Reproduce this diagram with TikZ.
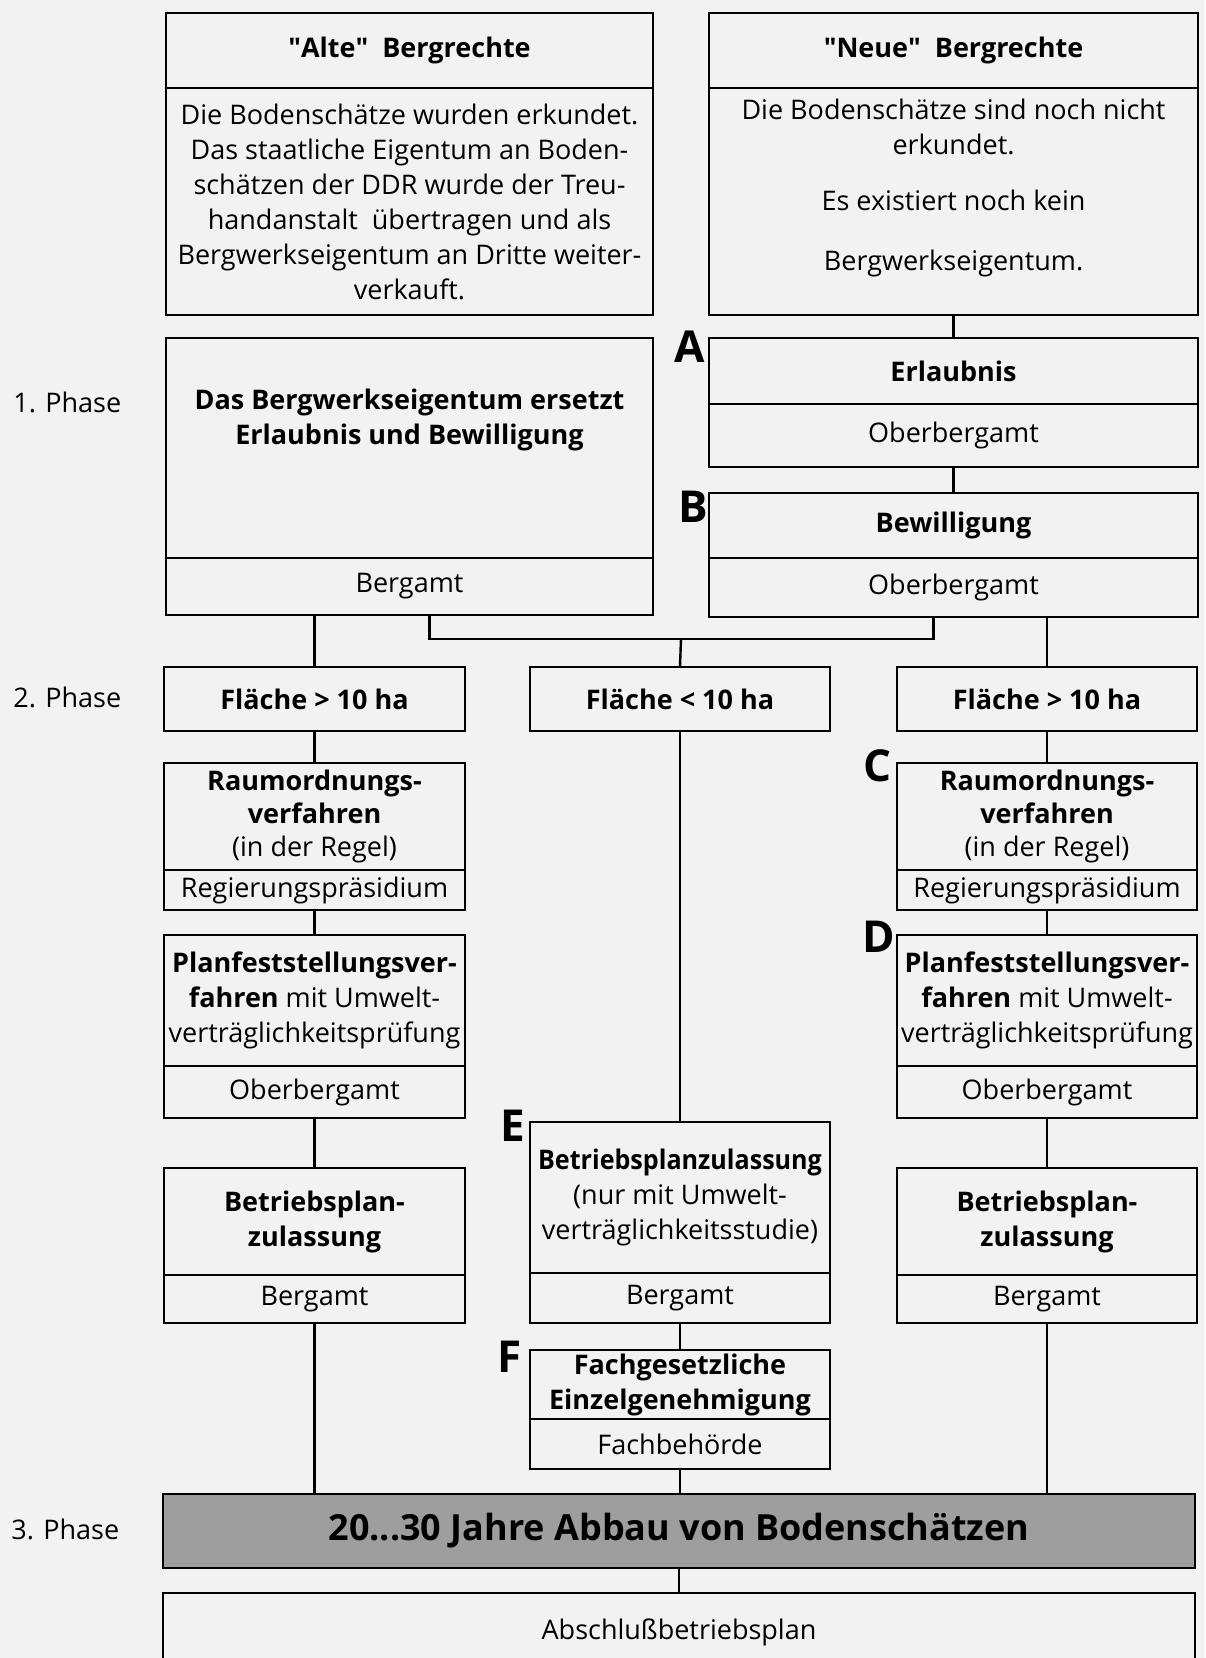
\documentclass[tikz,border=0pt]{standalone}
\usepackage{fontspec}
\setmainfont{Open Sans}
\definecolor{paper}{gray}{0.95}
\definecolor{abbaugray}{gray}{0.62}

\begin{document}
\begin{tikzpicture}[
    x=0.5pt, y=-0.5pt,
    font=\fontsize{13.5}{17.5}\selectfont,
    headbox/.style={rectangle, draw=black, line width=1.2pt, inner sep=0pt, align=center, font=\fontsize{13.5}{17.5}\selectfont\bfseries},
    bodybox/.style={rectangle, draw=black, line width=1.2pt, inner sep=0pt, align=center},
    phaselabel/.style={anchor=west, inner sep=0pt},
    letterlabel/.style={font=\fontsize{22}{22}\selectfont\bfseries},
    link/.style={line width=1.2pt}
]
\useasboundingbox (0,0) rectangle (1205,1658);
\clip (0,0) rectangle (1205,1658);
\fill [paper] (0,0) rectangle (1205,1658);

% --- Nodes ---
% Top row: old and new mining rights
\node (altehead) at (409.5, 50.5) [headbox, minimum width=243.5pt, minimum height=37.5pt] {\textquotedbl Alte\textquotedbl~ Bergrechte};
\node (altebody) at (409.5, 201.5) [bodybox, minimum width=243.5pt, minimum height=113.5pt] {Die Bodenschätze wurden erkundet.\\ Das staatliche Eigentum an Boden-\\ schätzen der DDR wurde der Treu-\\ handanstalt~ übertragen und als\\ Bergwerkseigentum an Dritte weiter-\\ verkauft.};
\node (neuehead) at (953.5, 50.5) [headbox, minimum width=244.5pt, minimum height=37.5pt] {\textquotedbl Neue\textquotedbl~ Bergrechte};
\node (neuebody) at (953.5, 201.5) [bodybox, minimum width=244.5pt, minimum height=113.5pt] {};
\node (neuetext) at (953.5, 188) [align=center] {Die Bodenschätze sind noch nicht\\ erkundet.\\[10.5pt] Es existiert noch kein\\[12.5pt] Bergwerkseigentum.};

% 1. Phase
\node (phase1) at (13, 402) [phaselabel] {1. Phase};
\node (bwehead) at (409.5, 448) [headbox, minimum width=243.5pt, minimum height=110pt] {};
\node (bwetext) at (409.5, 420) [align=center, font=\fontsize{13.5}{17.5}\selectfont\bfseries] {Das Bergwerkseigentum ersetzt\\ Erlaubnis und Bewilligung};
\node (bwebody) at (409.5, 586.5) [bodybox, minimum width=243.5pt, minimum height=28.5pt] {Bergamt};

\node (erlhead) at (953.5, 371) [headbox, minimum width=244.5pt, minimum height=33pt] {Erlaubnis};
\node (erlbody) at (953.5, 435.5) [bodybox, minimum width=244.5pt, minimum height=31.5pt] {Oberbergamt};
\node (bewhead) at (953.5, 525.5) [headbox, minimum width=244.5pt, minimum height=32.5pt] {Bewilligung};
\node (bewbody) at (953.5, 587.5) [bodybox, minimum width=244.5pt, minimum height=29.5pt] {Oberbergamt};
\node (letA) at (690, 347) [letterlabel] {A};
\node (letB) at (693, 507) [letterlabel] {B};

% 2. Phase
\node (phase2) at (13, 697) [phaselabel] {2. Phase};
\node (flaecheL) at (314.5, 699) [headbox, minimum width=150.5pt, minimum height=32pt] {Fläche > 10 ha};
\node (flaecheM) at (680, 699) [headbox, minimum width=150pt, minimum height=32pt] {Fläche < 10 ha};
\node (flaecheR) at (1047, 699) [headbox, minimum width=150pt, minimum height=32pt] {Fläche > 10 ha};

% Left column
\node (raumLhead) at (314.5, 816.5) [headbox, minimum width=150.5pt, minimum height=53.5pt, font=\fontsize{13.5}{16.5}\selectfont\bfseries] {Raumordnungs-\\ verfahren\\ \mdseries (in der Regel)};
\node (raumLbody) at (314.5, 890) [bodybox, minimum width=150.5pt, minimum height=20pt] {Regierungspräsidium};
\node (planLhead) at (314.5, 1000.5) [headbox, minimum width=150.5pt, minimum height=65.5pt] {Planfeststellungsver-\\ fahren \mdseries mit Umwelt-\\ \mdseries verträglichkeitsprüfung};
\node (planLbody) at (314.5, 1092) [bodybox, minimum width=150.5pt, minimum height=26pt] {Oberbergamt};
\node (betrLhead) at (314.5, 1221.5) [headbox, minimum width=150.5pt, minimum height=53.5pt] {Betriebsplan-\\ zulassung};
\node (betrLbody) at (314.5, 1299) [bodybox, minimum width=150.5pt, minimum height=24pt] {Bergamt};

% Middle column
\node (ehead) at (680, 1197.5) [headbox, minimum width=150pt, minimum height=75.5pt] {\scalebox{0.93}[1]{Betriebsplanzulassung}\\ \mdseries (nur mit Umwelt-\\ \mdseries verträglichkeitsstudie)};
\node (ebody) at (680, 1298) [bodybox, minimum width=150pt, minimum height=25pt] {Bergamt};
\node (fhead) at (680, 1384.5) [headbox, minimum width=150pt, minimum height=34.5pt] {Fachgesetzliche\\ Einzelgenehmigung};
\node (fbody) at (680, 1444) [bodybox, minimum width=150pt, minimum height=25pt] {Fachbehörde};
\node (letE) at (513, 1126) [letterlabel] {E};
\node (letF) at (510, 1357) [letterlabel] {F};

% Right column
\node (raumRhead) at (1047, 816.5) [headbox, minimum width=150pt, minimum height=53.5pt, font=\fontsize{13.5}{16.5}\selectfont\bfseries] {Raumordnungs-\\ verfahren\\ \mdseries (in der Regel)};
\node (raumRbody) at (1047, 890) [bodybox, minimum width=150pt, minimum height=20pt] {Regierungspräsidium};
\node (planRhead) at (1047, 1000.5) [headbox, minimum width=150pt, minimum height=65.5pt] {Planfeststellungsver-\\ fahren \mdseries mit Umwelt-\\ \mdseries verträglichkeitsprüfung};
\node (planRbody) at (1047, 1092) [bodybox, minimum width=150pt, minimum height=26pt] {Oberbergamt};
\node (betrRhead) at (1047, 1221.5) [headbox, minimum width=150pt, minimum height=53.5pt] {Betriebsplan-\\ zulassung};
\node (betrRbody) at (1047, 1299) [bodybox, minimum width=150pt, minimum height=24pt] {Bergamt};
\node (letC) at (878, 766) [letterlabel] {C};
\node (letD) at (879, 937) [letterlabel] {D};

% 3. Phase
\node (phase3) at (11, 1529) [phaselabel] {3. Phase};
\node (abbau) at (679, 1531) [headbox, fill=abbaugray, minimum width=516pt, minimum height=37pt, font=\fontsize{18}{20}\selectfont\bfseries] {20...30 Jahre Abbau von Bodenschätzen};
\node (abschluss) at (679, 1632.5) [bodybox, minimum width=516pt, minimum height=39.5pt] {Abschlußbetriebsplan};

% --- Edges ---
\draw [link] (neuebody) -- (erlhead);
\draw [link] (erlbody) -- (bewhead);
\draw [link] (flaecheL.north) -- (flaecheL.north |- bwebody.south);
\coordinate (split) at (681, 639);
\draw [link] ([xshift=10pt]bwebody.south) |- (split) -| ([xshift=-10pt]bewbody.south);
\draw [link] (split) -- (flaecheM.north);
\draw [link] (flaecheR.north) -- (flaecheR.north |- bewbody.south);

% Left column
\draw [link] (flaecheL) -- (raumLhead);
\draw [link] (raumLbody) -- (planLhead);
\draw [link] (planLbody) -- (betrLhead);
\draw [link] (betrLbody.south) -- (betrLbody.south |- abbau.north);

% Middle column
\draw [link] (flaecheM) -- (ehead);
\draw [link] (ebody) -- (fhead);
\draw [link] (fbody.south) -- (fbody.south |- abbau.north);

% Right column
\draw [link] (flaecheR) -- (raumRhead);
\draw [link] (raumRbody) -- (planRhead);
\draw [link] (planRbody) -- (betrRhead);
\draw [link] (betrRbody.south) -- (betrRbody.south |- abbau.north);

\draw [link] (abbau.south) -- (abbau.south |- abschluss.north);

\end{tikzpicture}
\end{document}
